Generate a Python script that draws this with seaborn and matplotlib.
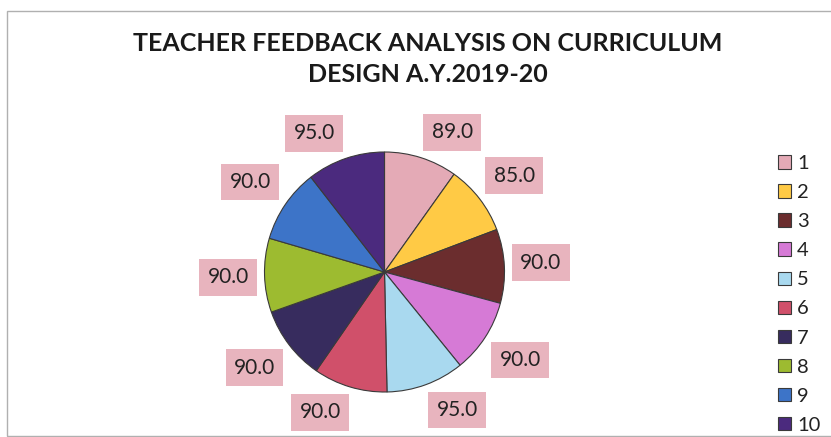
import matplotlib
matplotlib.use("Agg")
import matplotlib.pyplot as plt
import numpy as np
import seaborn as sns

sns.set_theme(style="white")
plt.rcParams['font.family'] = ['Lato', 'DejaVu Sans']

# data
categories = ['1', '2', '3', '4', '5', '6', '7', '8', '9', '10']
scores = [89.0, 85.0, 90.0, 90.0, 95.0, 90.0, 90.0, 90.0, 90.0, 95.0]
slice_colors = sns.color_palette(['#E4AAB6', '#FFCA45', '#6B2D2E', '#D67AD6', '#A9D9EF',
                                  '#D0506A', '#372C5E', '#9DBB30', '#3D74C8', '#4B2A7E'])
title_lines = ['TEACHER FEEDBACK ANALYSIS ON CURRICULUM', 'DESIGN A.Y.2019-20']

W, H = 831, 437
fig = plt.figure(figsize=(W / 100, H / 100), dpi=100)
ax = fig.add_axes([0, 0, 1, 1])

px = 120.0          # pixels per data unit = pie radius
cx, cy = 384.5, 272  # pie centre in pixels from top-left

wedges, _ = ax.pie(scores, colors=slice_colors, startangle=90, counterclock=False,
                   radius=1.0, wedgeprops=dict(edgecolor='#3a3a3a', linewidth=0.8))
ax.set_aspect('auto')
ax.set_xlim(-cx / px, (W - cx) / px)
ax.set_ylim(-(H - cy) / px, cy / px)
ax.axis('off')

# data labels, outside end like Excel
hw, hh = 29 / px, 18.5 / px
for w, val in zip(wedges, scores):
    ang = np.deg2rad((w.theta1 + w.theta2) / 2)
    dx, dy = np.cos(ang), np.sin(ang)
    x = 1.06 * dx + np.sign(dx) * hw * min(1, abs(dx) / 0.3)
    y = 1.06 * dy + np.sign(dy) * hh * min(1, abs(dy) / 0.3)
    ax.text(x, y, f'{val:.1f}', ha='center', va='center', fontsize=15, color='#222222',
            bbox=dict(boxstyle='square,pad=0.4', facecolor='#E8B4BE', edgecolor='none'))

fig.text(428 / W, 1 - 43.5 / H, title_lines[0], ha='center', va='center',
         fontsize=18, fontweight='bold', color='#1a1a1a')
fig.text(428 / W, 1 - 75 / H, title_lines[1], ha='center', va='center',
         fontsize=18, fontweight='bold', color='#1a1a1a')

ax.legend(wedges, categories, loc='upper left', bbox_to_anchor=(778 / W, 1 - 155 / H),
          bbox_transform=fig.transFigure, frameon=False, fontsize=14.5,
          handlelength=0.65, handleheight=0.65, handletextpad=0.3,
          labelspacing=0.6, borderpad=0, borderaxespad=0, labelcolor='#222222')

# chart area border
fig.patches.append(plt.Rectangle((7 / W, 1 / H), 1.2, 1 - 12 / H, transform=fig.transFigure,
                                 fill=False, edgecolor='#b0b0b0', linewidth=1.0))

fig.savefig('out.png', dpi=100, facecolor='white')
